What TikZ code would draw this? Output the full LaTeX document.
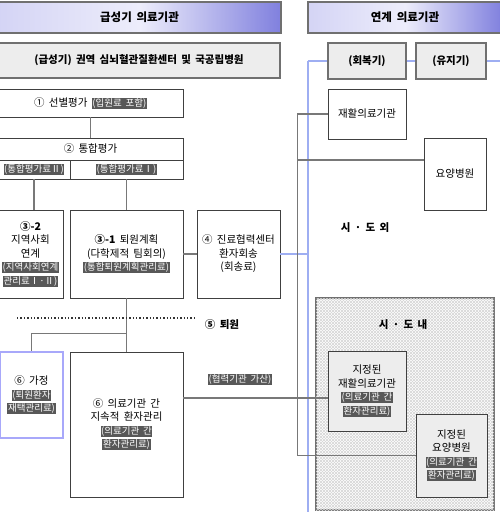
\documentclass[tikz,border=0pt]{standalone}
\usepackage{fontspec}
\setmainfont[WordSpace=1.8]{Noto Sans CJK KR}
\usepackage{xcolor}
\usepackage{tikz}
\usetikzlibrary{positioning, calc, patterns}

\definecolor{hdrleft}{HTML}{D4D4F5}
\definecolor{hdrmid}{HTML}{EDEDFB}
\definecolor{hdrright}{HTML}{8080DE}
\definecolor{boxline}{HTML}{404040}
\definecolor{gboxline}{HTML}{707070}
\definecolor{boxfill}{HTML}{EDEDED}
\definecolor{linkgray}{HTML}{787878}
\definecolor{linkblue}{HTML}{9EAEF2}
\definecolor{homeline}{HTML}{A8A8FA}
\definecolor{tagbg}{HTML}{585858}

\newcommand{\hl}[1]{{\fontsize{9.5}{13.5}\selectfont\setlength{\fboxsep}{0.6pt}\colorbox{tagbg}{\textcolor{white}{#1}}}}

\begin{document}
\begin{tikzpicture}[x=1pt, y=-1pt,
    box/.style={draw=boxline, line width=0.9pt, fill=white, inner sep=0pt, align=center, font=\fontsize{10.5}{13.5}\selectfont},
    gbox/.style={box, draw=gboxline, line width=1.3pt, fill=boxfill, font=\bfseries\fontsize{10.5}{13.5}\selectfont},
    hdr/.style={draw=gboxline, line width=1.3pt, inner sep=0pt, left color=hdrleft, right color=hdrright, middle color=hdrmid, font=\bfseries\fontsize{11.5}{14}\selectfont},
    lbl/.style={inner sep=0pt, align=center, font=\bfseries\fontsize{10.5}{13.5}\selectfont},
    link/.style={draw=linkgray, line width=1.8pt},
    blink/.style={draw=linkblue, line width=1.5pt},
]
    \useasboundingbox (0,0) rectangle (500,512);

    % headers
    \node[hdr, minimum width=283pt, minimum height=31pt] (acute) at (139.5,17.5) {급성기 의료기관};
    \node[hdr, minimum width=194pt, minimum height=31pt] (linked) at (405,17.5) {연계 의료기관};

    % acute side
    \node[gbox, minimum width=282pt, minimum height=35pt] (center) at (139,60.5) {(급성기) 권역 심뇌혈관질환센터 및 국공립병원};
    \node[box, minimum width=185pt, minimum height=28pt] (screen) at (90.5,103) {① 선별평가 \hl{(입원료 포함)}};
    \node[box, minimum width=185pt, minimum height=22pt] (integ) at (90.5,149) {② 통합평가};
    \node[box, minimum width=72pt, minimum height=19pt] (fee2) at (34,169.5) {\hl{(통합평가료Ⅱ)}};
    \node[box, minimum width=113pt, minimum height=19pt] (fee1) at (126.5,169.5) {\hl{(통합평가료Ⅰ)}};

    \node[box, minimum width=65pt, minimum height=88pt] (comm) at (30.5,254) {\textbf{③-2}\\지역사회\\연계\\\hl{(지역사회연계}\\\hl{관리료Ⅰ·Ⅱ)}};
    \node[box, minimum width=113pt, minimum height=88pt] (plan) at (126.5,254) {\textbf{③-1} 퇴원계획\\(다학제적 팀회의)\\\hl{(통합퇴원계획관리료)}};
    \node[box, minimum width=83pt, minimum height=88pt] (ctr) at (238.5,254) {④ 진료협력센터\\환자회송\\(회송료)};

    \coordinate (dotl) at (17,318);
    \coordinate (dotr) at (195,318);
    \node[lbl] (leave) at (222,325) {⑤ 퇴원};

    \node[box, draw=homeline, line width=1.3pt, minimum width=63pt, minimum height=86pt] (home) at (31.5,395) {⑥ 가정\\\hl{(퇴원환자}\\\hl{재택관리료)}};
    \node[box, minimum width=113pt, minimum height=145pt] (mgmt) at (126.5,424.5) {⑥ 의료기관 간\\지속적 환자관리\\\hl{(의료기관 간}\\\hl{환자관리료)}};
    \node[inner sep=0pt] (coop) at (240,379) {\hl{(협력기관 가산)}};

    % linked side
    \node[gbox, minimum width=78pt, minimum height=36pt] (recov) at (367,61) {(회복기)};
    \node[gbox, minimum width=70pt, minimum height=36pt] (maint) at (451,61) {(유지기)};
    \node[box, minimum width=78pt, minimum height=50pt] (rehab) at (367,114) {재활의료기관};
    \node[box, minimum width=62pt, minimum height=72pt] (nursing) at (455,174) {요양병원};
    \node[lbl] (outside) at (365,228) {시 · 도 외};

    \node[draw=gboxline, line width=1.5pt, fill=white, minimum width=178pt, minimum height=212pt,
        postaction={pattern=north east lines, pattern color=black!16},
        postaction={pattern=north west lines, pattern color=black!16}] (region) at (405,404) {};
    \node[lbl] (inside) at (403,325) {시 · 도 내};
    \node[box, fill=boxfill, minimum width=78pt, minimum height=80pt] (drehab) at (367,391) {지정된\\재활의료기관\\\hl{(의료기관 간}\\\hl{환자관리료)}};
    \node[box, fill=boxfill, minimum width=71pt, minimum height=83pt] (dnurse) at (451.5,455.5) {지정된\\요양병원\\\hl{(의료기관 간}\\\hl{환자관리료)}};

    % connectors
    \draw[link] (screen.south) -- (integ.north);
    \draw[link] (fee2.south) -- (fee2.south |- comm.north);
    \draw[link] (fee1.south) -- (plan.north);
    \draw[link] (plan.east) -- (ctr.west);
    \draw[link] (plan.south) -- (mgmt.north);
    \coordinate (split) at ([yshift=-35pt]plan.south);
    \draw[link] (split) -| (home.north);
    \draw[black!80, line width=1.4pt, dotted] (dotl) -- (dotr);

    \coordinate (bus) at (308,61);
    \coordinate (busend) at (308,514);
    \coordinate (edge) at (502,61);
    \draw[blink] (bus) -- (busend);
    \draw[blink] (bus) -- (recov.west);
    \draw[blink] (recov.east) -- (maint.west);
    \draw[blink] (maint.east) -- (edge);
    \draw[blink] (ctr.east) -- (ctr.east -| bus);

    \coordinate (trunk) at ([xshift=-30pt]rehab.west);
    \draw[link] (rehab.west) -- (trunk) |- (dnurse.west);
    \coordinate (nb) at ([yshift=14pt]nursing.west);
    \draw[link] (nb -| trunk) -- (nb);
    \coordinate (lk) at ([yshift=-7pt]drehab.west);
    \draw[link] (mgmt.east |- lk) -- (lk);
\end{tikzpicture}
\end{document}
